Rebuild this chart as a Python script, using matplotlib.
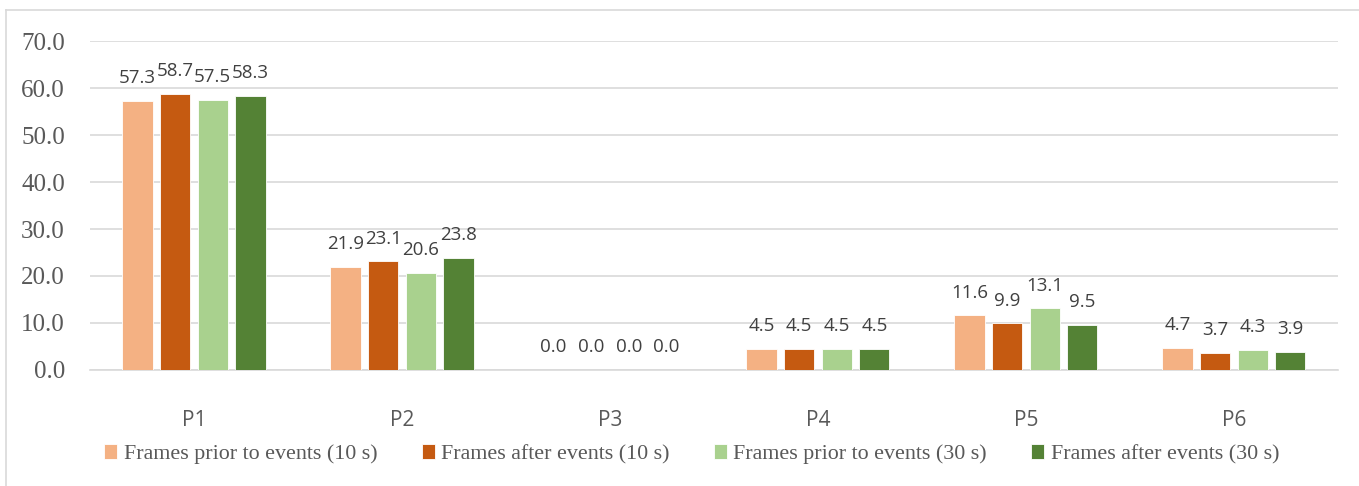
import matplotlib.pyplot as plt
import numpy as np
from matplotlib.lines import Line2D

categories = ["P1", "P2", "P3", "P4", "P5", "P6"]
series_names = [
    "Frames prior to events (10 s)",
    "Frames after events (10 s)",
    "Frames prior to events (30 s)",
    "Frames after events (30 s)",
]
prior_10 = [57.3, 21.9, 0.0, 4.5, 11.6, 4.7]
after_10 = [58.7, 23.1, 0.0, 4.5, 9.9, 3.7]
prior_30 = [57.5, 20.6, 0.0, 4.5, 13.1, 4.3]
after_30 = [58.3, 23.8, 0.0, 4.5, 9.5, 3.9]
yticks = [0, 10, 20, 30, 40, 50, 60, 70]

series = [prior_10, after_10, prior_30, after_30]
colors = ["#F4B183", "#C55A11", "#A9D18E", "#548235"]

serif = ["Liberation Serif", "DejaVu Serif"]
sans = ["Open Sans", "DejaVu Sans"]

fig = plt.figure(figsize=(13.59, 4.86), dpi=100)
ax = fig.add_axes([0.0662, 0.2387, 0.9183, 0.6769])

x = np.arange(len(categories))
stride = 0.181
width = 0.145
for i, (vals, col) in enumerate(zip(series, colors)):
    pos = x + (i - 1.5) * stride
    ax.bar(pos, vals, width, color=col, label=series_names[i],
           edgecolor="white", linewidth=0.6, zorder=3)
    for xp, v in zip(pos, vals):
        ax.annotate(f"{v:.1f}", (xp, v), xytext=(0, 16.5), textcoords="offset points",
                    ha="center", va="center", fontsize=13.5, color="#404040",
                    family=sans, zorder=4)

ax.set_xlim(-0.5, len(categories) - 0.5)
ax.set_ylim(0, 70)
ax.set_yticks(yticks)
ax.set_yticklabels([f"{t:.1f}" for t in yticks], family=serif, fontsize=18, color="#595959")
ax.set_xticks(x)
ax.set_xticklabels(categories, family=sans, fontsize=15, color="#595959")
ax.tick_params(axis="both", length=0)
ax.tick_params(axis="x", pad=29)
ax.tick_params(axis="y", pad=18)
ax.grid(axis="y", color="#D9D9D9", linewidth=1.2, zorder=0)
for s in ["top", "right", "left"]:
    ax.spines[s].set_visible(False)
ax.spines["bottom"].set_color("#D9D9D9")
ax.spines["bottom"].set_linewidth(1.2)

leg = fig.legend(loc="center", bbox_to_anchor=(0.509, 0.066), ncol=4, frameon=False,
                 prop={"family": serif, "size": 15.8}, handlelength=0.6, handleheight=0.7,
                 handletextpad=0.3, columnspacing=2.0)
for t in leg.get_texts():
    t.set_color("#595959")

# chart area outline
fig.add_artist(Line2D([6 / 1359, 6 / 1359], [0, 1 - 10 / 486], transform=fig.transFigure,
                      color="#D9D9D9", linewidth=1.2))
fig.add_artist(Line2D([6 / 1359, 1], [1 - 10 / 486, 1 - 10 / 486], transform=fig.transFigure,
                      color="#D9D9D9", linewidth=1.2))

fig.savefig("out.png", dpi=100)
